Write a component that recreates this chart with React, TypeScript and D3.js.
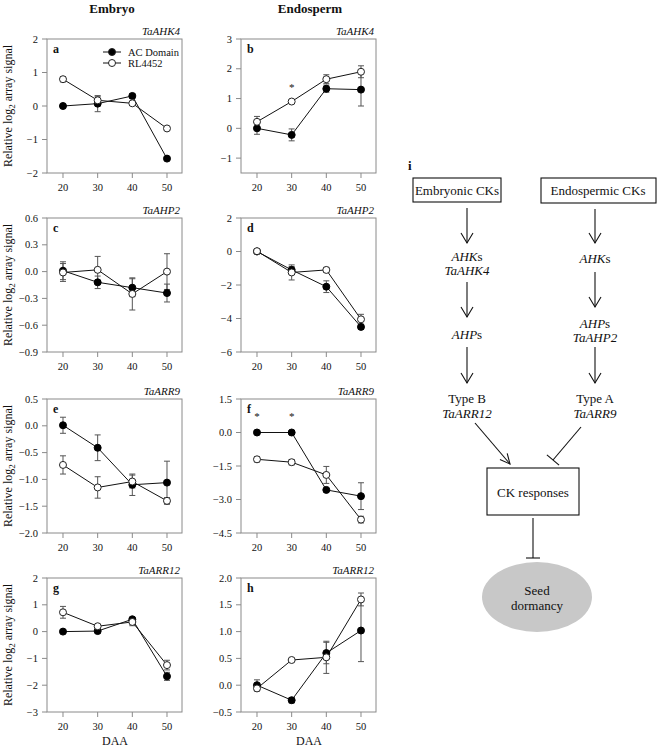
import React from 'react';
import * as d3 from 'd3';

// ---------- Data ----------
const daa = [20, 30, 40, 50];

// a: Embryo TaAHK4
const embAHK4_AC = [0.0, 0.07, 0.3, -1.57];
const embAHK4_ACerr = [0.06, 0.24, 0.07, 0.03];
const embAHK4_RL = [0.8, 0.17, 0.08, -0.67];
const embAHK4_RLerr = [0.08, 0.12, 0.05, 0.03];
// b: Endosperm TaAHK4
const endAHK4_AC = [0.0, -0.22, 1.33, 1.3];
const endAHK4_ACerr = [0.2, 0.2, 0.12, 0.55];
const endAHK4_RL = [0.22, 0.9, 1.65, 1.9];
const endAHK4_RLerr = [0.18, 0.05, 0.15, 0.2];
// c: Embryo TaAHP2
const embAHP2_AC = [0.01, -0.12, -0.18, -0.24];
const embAHP2_ACerr = [0.1, 0.07, 0.1, 0.1];
const embAHP2_RL = [-0.01, 0.02, -0.25, 0.0];
const embAHP2_RLerr = [0.1, 0.15, 0.18, 0.2];
// d: Endosperm TaAHP2
const endAHP2_AC = [0.0, -1.1, -2.1, -4.5];
const endAHP2_ACerr = [0.05, 0.2, 0.35, 0.15];
const endAHP2_RL = [0.02, -1.25, -1.1, -4.05];
const endAHP2_RLerr = [0.05, 0.45, 0.15, 0.3];
// e: Embryo TaARR9
const embARR9_AC = [0.01, -0.41, -1.1, -1.06];
const embARR9_ACerr = [0.15, 0.24, 0.2, 0.4];
const embARR9_RL = [-0.73, -1.15, -1.04, -1.4];
const embARR9_RLerr = [0.17, 0.2, 0.12, 0.06];
// f: Endosperm TaARR9
const endARR9_AC = [0.0, 0.0, -2.57, -2.85];
const endARR9_ACerr = [0.03, 0.03, 0.05, 0.6];
const endARR9_RL = [-1.2, -1.33, -1.9, -3.9];
const endARR9_RLerr = [0.12, 0.12, 0.38, 0.15];
// g: Embryo TaARR12
const embARR12_AC = [0.0, 0.02, 0.46, -1.67];
const embARR12_ACerr = [0.05, 0.07, 0.06, 0.15];
const embARR12_RL = [0.72, 0.2, 0.36, -1.25];
const embARR12_RLerr = [0.22, 0.05, 0.14, 0.18];
// h: Endosperm TaARR12
const endARR12_AC = [0.0, -0.28, 0.6, 1.02];
const endARR12_ACerr = [0.1, 0.05, 0.2, 0.58];
const endARR12_RL = [-0.06, 0.47, 0.52, 1.6];
const endARR12_RLerr = [0.05, 0.02, 0.3, 0.12];

const seriesNames = ['AC Domain', 'RL4452'];
const columnHeaders = ['Embryo', 'Endosperm'];

type Cfg = {
  letter: string;
  gene: string;
  domain: [number, number];
  ticks: number[];
  fmt: string;
  ac: number[];
  acErr: number[];
  rl: number[];
  rlErr: number[];
  stars: { x: number; y: number }[];
};

const panels: Cfg[] = [
  { letter: 'a', gene: 'TaAHK4', domain: [-2, 2], ticks: [-2, -1, 0, 1, 2], fmt: 'd', ac: embAHK4_AC, acErr: embAHK4_ACerr, rl: embAHK4_RL, rlErr: embAHK4_RLerr, stars: [] },
  { letter: 'b', gene: 'TaAHK4', domain: [-1.5, 3], ticks: [-1, 0, 1, 2, 3], fmt: 'd', ac: endAHK4_AC, acErr: endAHK4_ACerr, rl: endAHK4_RL, rlErr: endAHK4_RLerr, stars: [{ x: 30, y: 1.25 }] },
  { letter: 'c', gene: 'TaAHP2', domain: [-0.9, 0.6], ticks: [-0.9, -0.6, -0.3, 0, 0.3, 0.6], fmt: '.1f', ac: embAHP2_AC, acErr: embAHP2_ACerr, rl: embAHP2_RL, rlErr: embAHP2_RLerr, stars: [] },
  { letter: 'd', gene: 'TaAHP2', domain: [-6, 2], ticks: [-6, -4, -2, 0, 2], fmt: 'd', ac: endAHP2_AC, acErr: endAHP2_ACerr, rl: endAHP2_RL, rlErr: endAHP2_RLerr, stars: [] },
  { letter: 'e', gene: 'TaARR9', domain: [-2, 0.5], ticks: [-2, -1.5, -1, -0.5, 0, 0.5], fmt: '.1f', ac: embARR9_AC, acErr: embARR9_ACerr, rl: embARR9_RL, rlErr: embARR9_RLerr, stars: [] },
  { letter: 'f', gene: 'TaARR9', domain: [-4.5, 1.5], ticks: [-4.5, -3, -1.5, 0, 1.5], fmt: '.1f', ac: endARR9_AC, acErr: endARR9_ACerr, rl: endARR9_RL, rlErr: endARR9_RLerr, stars: [{ x: 20, y: 0.55 }, { x: 30, y: 0.55 }] },
  { letter: 'g', gene: 'TaARR12', domain: [-3, 2], ticks: [-3, -2, -1, 0, 1, 2], fmt: 'd', ac: embARR12_AC, acErr: embARR12_ACerr, rl: embARR12_RL, rlErr: embARR12_RLerr, stars: [] },
  { letter: 'h', gene: 'TaARR12', domain: [-0.5, 2], ticks: [-0.5, 0, 0.5, 1, 1.5, 2], fmt: '.1f', ac: endARR12_AC, acErr: endARR12_ACerr, rl: endARR12_RL, rlErr: endARR12_RLerr, stars: [] },
];

const FONT = '"Liberation Serif", "Times New Roman", Times, serif';
const PW = 135;
const PH = 134;
const colX = [47, 241];
const rowY = [39, 218, 399, 578];

function Panel({ cfg, x0, y0, legend, yLabel, daaLabel }: { cfg: Cfg; x0: number; y0: number; legend: boolean; yLabel: boolean; daaLabel: boolean }) {
  const xs = d3.scaleLinear().domain([15.385, 54.33]).range([x0, x0 + PW]);
  const ys = d3.scaleLinear().domain(cfg.domain).range([y0 + PH, y0]);
  const fmt = cfg.fmt === 'd' ? d3.format('d') : d3.format('.1f');
  const line = d3.line<number>().x((_, i) => xs(daa[i])).y((v) => ys(v));
  const frame = '#8a8a8a';
  const errCol = '#555';
  const r = 3.5;

  const errBars = (vals: number[], errs: number[], key: string) =>
    vals.map((v, i) => {
      const x = xs(daa[i]);
      const y1 = ys(v + errs[i]);
      const y2 = ys(v - errs[i]);
      return (
        <g key={key + i} stroke={errCol} strokeWidth={1}>
          <line x1={x} x2={x} y1={y1} y2={y2} />
          <line x1={x - 3} x2={x + 3} y1={y1} y2={y1} />
          <line x1={x - 3} x2={x + 3} y1={y2} y2={y2} />
        </g>
      );
    });

  return (
    <g fontFamily={FONT}>
      <rect x={x0} y={y0} width={PW} height={PH} fill="none" stroke={frame} strokeWidth={1} />
      {cfg.ticks.map((t) => (
        <g key={'yt' + t}>
          <line x1={x0 - 5} x2={x0} y1={ys(t)} y2={ys(t)} stroke={frame} />
          <text x={x0 - 9} y={ys(t)} dy="0.35em" textAnchor="end" fontSize={10.5} fill="#111">
            {fmt(t)}
          </text>
        </g>
      ))}
      {daa.map((d) => (
        <g key={'xt' + d}>
          <line x1={xs(d)} x2={xs(d)} y1={y0 + PH} y2={y0 + PH + 5} stroke={frame} />
          <text x={xs(d)} y={y0 + PH + 18} textAnchor="middle" fontSize={10.5} fill="#111">
            {d}
          </text>
        </g>
      ))}
      <text x={x0 + PW - 2} y={y0 - 4} textAnchor="end" fontSize={11} fontStyle="italic" fill="#111">
        {cfg.gene}
      </text>
      <text x={x0 + 6} y={y0 + 14} fontSize={12} fontWeight="bold" fill="#111">
        {cfg.letter}
      </text>
      {errBars(cfg.ac, cfg.acErr, 'ea')}
      {errBars(cfg.rl, cfg.rlErr, 'er')}
      <path d={line(cfg.ac) || ''} fill="none" stroke="#111" strokeWidth={1} />
      <path d={line(cfg.rl) || ''} fill="none" stroke="#111" strokeWidth={1} />
      {cfg.ac.map((v, i) => (
        <circle key={'ma' + i} cx={xs(daa[i])} cy={ys(v)} r={r} fill="#000" stroke="#000" />
      ))}
      {cfg.rl.map((v, i) => (
        <circle key={'mr' + i} cx={xs(daa[i])} cy={ys(v)} r={r} fill="#fff" stroke="#222" strokeWidth={1} />
      ))}
      {cfg.stars.map((s, i) => (
        <text key={'s' + i} x={xs(s.x)} y={ys(s.y)} textAnchor="middle" fontSize={11} fill="#111">
          *
        </text>
      ))}
      {legend && (
        <g>
          {seriesNames.map((n, i) => {
            const ly = y0 + 13 + i * 11;
            return (
              <g key={n}>
                <line x1={x0 + 56} x2={x0 + 74} y1={ly} y2={ly} stroke="#111" />
                <circle cx={x0 + 65} cy={ly} r={r} fill={i === 0 ? '#000' : '#fff'} stroke="#222" />
                <text x={x0 + 81} y={ly} dy="0.35em" fontSize={10.5} fill="#111">
                  {n}
                </text>
              </g>
            );
          })}
        </g>
      )}
      {yLabel && (
        <text transform={`translate(${x0 - 35},${y0 + PH / 2}) rotate(-90)`} textAnchor="middle" fontSize={12} fill="#111">
          Relative log
          <tspan fontSize={9} dy={3}>2</tspan>
          <tspan dy={-3}> array signal</tspan>
        </text>
      )}
      {daaLabel && (
        <text x={xs(35)} y={y0 + PH + 33} textAnchor="middle" fontSize={12} fill="#111">
          DAA
        </text>
      )}
    </g>
  );
}

function DownArrow({ x, y1, y2 }: { x: number; y1: number; y2: number }) {
  return (
    <g stroke="#111" strokeWidth={1.1} fill="none">
      <line x1={x} x2={x} y1={y1} y2={y2} />
      <polyline points={`${x - 6},${y2 - 10} ${x},${y2} ${x + 6},${y2 - 10}`} />
    </g>
  );
}

function Diagram() {
  const lx = 457;
  const rx = 598;
  const fs = 13;
  const ax1 = 475, ay1 = 423, ax2 = 510, ay2 = 464;
  const ang = Math.atan2(ay2 - ay1, ax2 - ax1);
  const ah = 11, aw = 0.45;
  const tx1 = 581, ty1 = 427, tx2 = 553, ty2 = 460;
  const tang = Math.atan2(ty2 - ty1, tx2 - tx1);
  const px = Math.cos(tang + Math.PI / 2) * 8;
  const py = Math.sin(tang + Math.PI / 2) * 8;
  return (
    <g fontFamily={FONT} fill="#111">
      <text x={408} y={170} fontSize={13} fontWeight="bold">i</text>
      <rect x={413} y={178} width={88} height={24} fill="#fff" stroke="#111" strokeWidth={1.1} />
      <text x={lx} y={190} dy="0.35em" textAnchor="middle" fontSize={fs}>Embryonic CKs</text>
      <rect x={541} y={178} width={115} height={25} fill="#fff" stroke="#111" strokeWidth={1.1} />
      <text x={rx} y={190.5} dy="0.35em" textAnchor="middle" fontSize={fs}>Endospermic CKs</text>

      <DownArrow x={467} y1={208} y2={243} />
      <text x={467} y={256} dy="0.35em" textAnchor="middle" fontSize={fs}>
        <tspan fontStyle="italic">AHK</tspan>s
      </text>
      <text x={467} y={270} dy="0.35em" textAnchor="middle" fontSize={fs} fontStyle="italic">TaAHK4</text>
      <DownArrow x={467} y1={282} y2={317} />
      <text x={467} y={334} dy="0.35em" textAnchor="middle" fontSize={fs}>
        <tspan fontStyle="italic">AHP</tspan>s
      </text>
      <DownArrow x={467} y1={347} y2={383} />
      <text x={467} y={398} dy="0.35em" textAnchor="middle" fontSize={fs}>Type B</text>
      <text x={467} y={413} dy="0.35em" textAnchor="middle" fontSize={fs} fontStyle="italic">TaARR12</text>

      <DownArrow x={595} y1={209} y2={243} />
      <text x={595} y={258} dy="0.35em" textAnchor="middle" fontSize={fs}>
        <tspan fontStyle="italic">AHK</tspan>s
      </text>
      <DownArrow x={595} y1={272} y2={307} />
      <text x={595} y={323} dy="0.35em" textAnchor="middle" fontSize={fs}>
        <tspan fontStyle="italic">AHP</tspan>s
      </text>
      <text x={595} y={337} dy="0.35em" textAnchor="middle" fontSize={fs} fontStyle="italic">TaAHP2</text>
      <DownArrow x={595} y1={347} y2={383} />
      <text x={595} y={398} dy="0.35em" textAnchor="middle" fontSize={fs}>Type A</text>
      <text x={595} y={413} dy="0.35em" textAnchor="middle" fontSize={fs} fontStyle="italic">TaARR9</text>

      <g stroke="#111" strokeWidth={1.1} fill="none">
        <line x1={ax1} y1={ay1} x2={ax2} y2={ay2} />
        <polyline
          points={`${ax2 - ah * Math.cos(ang - aw)},${ay2 - ah * Math.sin(ang - aw)} ${ax2},${ay2} ${ax2 - ah * Math.cos(ang + aw)},${ay2 - ah * Math.sin(ang + aw)}`}
        />
        <line x1={tx1} y1={ty1} x2={tx2} y2={ty2} />
        <line x1={tx2 - px} y1={ty2 - py} x2={tx2 + px} y2={ty2 + py} />
      </g>

      <rect x={487} y={468} width={92} height={47} fill="#fff" stroke="#111" strokeWidth={1.1} />
      <text x={533} y={492} dy="0.35em" textAnchor="middle" fontSize={fs}>CK responses</text>

      <g stroke="#111" strokeWidth={1.1}>
        <line x1={533} x2={533} y1={518} y2={558} />
        <line x1={526} x2={540} y1={558} y2={558} />
      </g>
      <ellipse cx={537} cy={597} rx={55} ry={35} fill="#c8c8c8" />
      <text x={537} y={590} dy="0.35em" textAnchor="middle" fontSize={fs}>Seed</text>
      <text x={537} y={605} dy="0.35em" textAnchor="middle" fontSize={fs}>dormancy</text>
    </g>
  );
}

export default function App() {
  return (
    <svg width={660} height={751} style={{ position: 'absolute', left: 0, top: 0, background: '#fff' }}>
      <rect width={660} height={751} fill="#fff" />
      <text x={112} y={13} textAnchor="middle" fontFamily={FONT} fontSize={13} fontWeight="bold" fill="#111">
        {columnHeaders[0]}
      </text>
      <text x={310} y={13} textAnchor="middle" fontFamily={FONT} fontSize={13} fontWeight="bold" fill="#111">
        {columnHeaders[1]}
      </text>
      {panels.map((p, i) => {
        const col = i % 2;
        const row = Math.floor(i / 2);
        return (
          <Panel
            key={p.letter}
            cfg={p}
            x0={colX[col]}
            y0={rowY[row]}
            legend={i === 0}
            yLabel={col === 0}
            daaLabel={row === 3}
          />
        );
      })}
      <Diagram />
    </svg>
  );
}
